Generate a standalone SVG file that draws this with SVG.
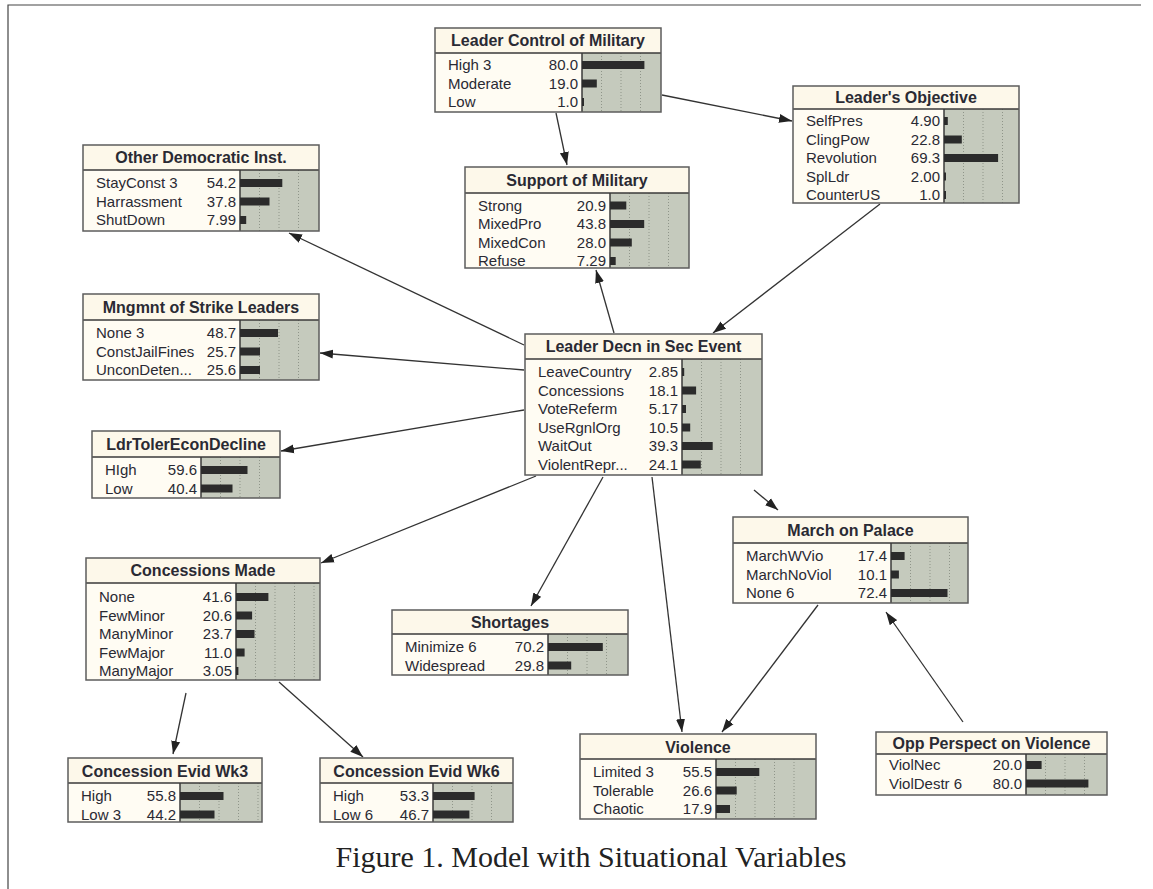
<svg xmlns="http://www.w3.org/2000/svg" width="1153" height="889" viewBox="0 0 1153 889">
<defs>
<marker id="ah" markerUnits="userSpaceOnUse" markerWidth="14" markerHeight="10" refX="13" refY="5" orient="auto">
<path d="M0,0.5 L13,5 L0,9.5 z" fill="#222"/>
</marker>
<style>
.hd{fill:#fdf8ea}
.bd{fill:#fffcf3}
.gr{fill:#c5cabd}
.ol{fill:none;stroke:#5c5c5c;stroke-width:1.5}
.ln{stroke:#3a3a3a;stroke-width:1.5}
.dt{stroke:#8f9589;stroke-width:1;stroke-dasharray:1 2}
.bar{fill:#2b2b2b}
.tt{font-family:"Liberation Sans",Arial,sans-serif;font-weight:bold;font-size:16px;fill:#2a2a33;text-anchor:middle}
.lb{font-family:"Liberation Sans",Arial,sans-serif;font-size:15px;fill:#2a2a33}
.vl{font-family:"Liberation Sans",Arial,sans-serif;font-size:15px;fill:#2a2a33;text-anchor:end}
.cn{stroke:#333;stroke-width:1.3;fill:none;marker-end:url(#ah)}
.frame{stroke:#444;stroke-width:1.2;fill:none}
.cap{font-family:"Liberation Serif","Times New Roman",serif;font-size:30px;fill:#222;text-anchor:middle}
</style>
</defs>
<rect width="1153" height="889" fill="#ffffff"/>
<path class="frame" d="M8,889 L8,5 L1141,5"/>

<g id="connectors">
<line class="cn" x1="556" y1="113" x2="567" y2="165"/>
<line class="cn" x1="662" y1="95" x2="792" y2="121"/>
<line class="cn" x1="880" y1="204" x2="713" y2="333"/>
<line class="cn" x1="614" y1="333" x2="596" y2="270"/>
<line class="cn" x1="524" y1="345" x2="289" y2="233"/>
<line class="cn" x1="524" y1="370" x2="320" y2="353"/>
<line class="cn" x1="524" y1="410" x2="281" y2="451"/>
<line class="cn" x1="536" y1="476" x2="321" y2="563"/>
<line class="cn" x1="603" y1="477" x2="531" y2="606"/>
<line class="cn" x1="652" y1="477" x2="682" y2="732"/>
<line class="cn" x1="754" y1="490" x2="778" y2="510"/>
<line class="cn" x1="818" y1="605" x2="722" y2="732"/>
<line class="cn" x1="963" y1="722" x2="886" y2="612"/>
<line class="cn" x1="186" y1="693" x2="173" y2="754"/>
<line class="cn" x1="279" y1="682" x2="363" y2="757"/>
</g>

<g id="leader-control-of-military" transform="translate(435,28)">
<rect class="hd" width="226" height="25"/><rect class="bd" y="25" width="147" height="59"/><rect class="gr" x="147" y="25" width="79" height="59"/>
<line class="dt" x1="166.5" y1="25" x2="166.5" y2="84"/><line class="dt" x1="186" y1="25" x2="186" y2="84"/><line class="dt" x1="205.5" y1="25" x2="205.5" y2="84"/>
<line class="ln" x1="0" y1="25" x2="226" y2="25"/><line class="ln" x1="147" y1="25" x2="147" y2="84"/>
<rect class="ol" width="226" height="84"/>
<text class="tt" x="113" y="18">Leader Control of Military</text>
<text class="lb" x="13" y="42">High 3</text><text class="vl" x="143" y="42">80.0</text><rect class="bar" x="147" y="33" width="62.4" height="8"/>
<text class="lb" x="13" y="60.5">Moderate</text><text class="vl" x="143" y="60.5">19.0</text><rect class="bar" x="147" y="51.5" width="14.8" height="8"/>
<text class="lb" x="13" y="79">Low</text><text class="vl" x="143" y="79">1.0</text><rect class="bar" x="147" y="70" width="2" height="8"/>
</g>

<g id="leaders-objective" transform="translate(793,86)">
<rect class="hd" width="226" height="23"/><rect class="bd" y="23" width="151" height="94"/><rect class="gr" x="151" y="23" width="75" height="94"/>
<line class="dt" x1="170.5" y1="23" x2="170.5" y2="117"/><line class="dt" x1="190" y1="23" x2="190" y2="117"/><line class="dt" x1="209.5" y1="23" x2="209.5" y2="117"/>
<line class="ln" x1="0" y1="23" x2="226" y2="23"/><line class="ln" x1="151" y1="23" x2="151" y2="117"/>
<rect class="ol" width="226" height="117"/>
<text class="tt" x="113" y="17">Leader's Objective</text>
<text class="lb" x="13" y="40">SelfPres</text><text class="vl" x="147" y="40">4.90</text><rect class="bar" x="151" y="31" width="3.8" height="8"/>
<text class="lb" x="13" y="58.5">ClingPow</text><text class="vl" x="147" y="58.5">22.8</text><rect class="bar" x="151" y="49.5" width="17.8" height="8"/>
<text class="lb" x="13" y="77">Revolution</text><text class="vl" x="147" y="77">69.3</text><rect class="bar" x="151" y="68" width="54.1" height="8"/>
<text class="lb" x="13" y="95.5">SplLdr</text><text class="vl" x="147" y="95.5">2.00</text><rect class="bar" x="151" y="86.5" width="2" height="8"/>
<text class="lb" x="13" y="114">CounterUS</text><text class="vl" x="147" y="114">1.0</text><rect class="bar" x="151" y="105" width="2" height="8"/>
</g>

<g id="other-democratic-inst" transform="translate(83,145)">
<rect class="hd" width="236" height="25"/><rect class="bd" y="25" width="157" height="61"/><rect class="gr" x="157" y="25" width="79" height="61"/>
<line class="dt" x1="176.5" y1="25" x2="176.5" y2="86"/><line class="dt" x1="196" y1="25" x2="196" y2="86"/><line class="dt" x1="215.5" y1="25" x2="215.5" y2="86"/>
<line class="ln" x1="0" y1="25" x2="236" y2="25"/><line class="ln" x1="157" y1="25" x2="157" y2="86"/>
<rect class="ol" width="236" height="86"/>
<text class="tt" x="118" y="18">Other Democratic Inst.</text>
<text class="lb" x="13" y="43">StayConst 3</text><text class="vl" x="153" y="43">54.2</text><rect class="bar" x="157" y="34" width="42.3" height="8"/>
<text class="lb" x="13" y="61.5">Harrassment</text><text class="vl" x="153" y="61.5">37.8</text><rect class="bar" x="157" y="52.5" width="29.5" height="8"/>
<text class="lb" x="13" y="80">ShutDown</text><text class="vl" x="153" y="80">7.99</text><rect class="bar" x="157" y="71" width="6.2" height="8"/>
</g>

<g id="support-of-military" transform="translate(465,167)">
<rect class="hd" width="224" height="26"/><rect class="bd" y="26" width="145" height="75"/><rect class="gr" x="145" y="26" width="79" height="75"/>
<line class="dt" x1="164.5" y1="26" x2="164.5" y2="101"/><line class="dt" x1="184" y1="26" x2="184" y2="101"/><line class="dt" x1="203.5" y1="26" x2="203.5" y2="101"/>
<line class="ln" x1="0" y1="26" x2="224" y2="26"/><line class="ln" x1="145" y1="26" x2="145" y2="101"/>
<rect class="ol" width="224" height="101"/>
<text class="tt" x="112" y="19">Support of Military</text>
<text class="lb" x="13" y="43.5">Strong</text><text class="vl" x="141" y="43.5">20.9</text><rect class="bar" x="145" y="34.5" width="16.3" height="8"/>
<text class="lb" x="13" y="62">MixedPro</text><text class="vl" x="141" y="62">43.8</text><rect class="bar" x="145" y="53" width="34.2" height="8"/>
<text class="lb" x="13" y="80.5">MixedCon</text><text class="vl" x="141" y="80.5">28.0</text><rect class="bar" x="145" y="71.5" width="21.8" height="8"/>
<text class="lb" x="13" y="99">Refuse</text><text class="vl" x="141" y="99">7.29</text><rect class="bar" x="145" y="90" width="5.7" height="8"/>
</g>

<g id="leader-decn-in-sec-event" transform="translate(525,334)">
<rect class="hd" width="237" height="25"/><rect class="bd" y="25" width="157" height="116"/><rect class="gr" x="157" y="25" width="80" height="116"/>
<line class="dt" x1="176.5" y1="25" x2="176.5" y2="141"/><line class="dt" x1="196" y1="25" x2="196" y2="141"/><line class="dt" x1="215.5" y1="25" x2="215.5" y2="141"/>
<line class="ln" x1="0" y1="25" x2="237" y2="25"/><line class="ln" x1="157" y1="25" x2="157" y2="141"/>
<rect class="ol" width="237" height="141"/>
<text class="tt" x="118.5" y="18">Leader Decn in Sec Event</text>
<text class="lb" x="13" y="43">LeaveCountry</text><text class="vl" x="153" y="43">2.85</text><rect class="bar" x="157" y="34" width="2.2" height="8"/>
<text class="lb" x="13" y="61.5">Concessions</text><text class="vl" x="153" y="61.5">18.1</text><rect class="bar" x="157" y="52.5" width="14.1" height="8"/>
<text class="lb" x="13" y="80">VoteReferm</text><text class="vl" x="153" y="80">5.17</text><rect class="bar" x="157" y="71" width="4" height="8"/>
<text class="lb" x="13" y="98.5">UseRgnlOrg</text><text class="vl" x="153" y="98.5">10.5</text><rect class="bar" x="157" y="89.5" width="8.2" height="8"/>
<text class="lb" x="13" y="117">WaitOut</text><text class="vl" x="153" y="117">39.3</text><rect class="bar" x="157" y="108" width="30.7" height="8"/>
<text class="lb" x="13" y="135.5">ViolentRepr...</text><text class="vl" x="153" y="135.5">24.1</text><rect class="bar" x="157" y="126.5" width="18.8" height="8"/>
</g>

<g id="mngmnt-of-strike-leaders" transform="translate(83,294)">
<rect class="hd" width="236" height="26"/><rect class="bd" y="26" width="157" height="60"/><rect class="gr" x="157" y="26" width="79" height="60"/>
<line class="dt" x1="176.5" y1="26" x2="176.5" y2="86"/><line class="dt" x1="196" y1="26" x2="196" y2="86"/><line class="dt" x1="215.5" y1="26" x2="215.5" y2="86"/>
<line class="ln" x1="0" y1="26" x2="236" y2="26"/><line class="ln" x1="157" y1="26" x2="157" y2="86"/>
<rect class="ol" width="236" height="86"/>
<text class="tt" x="118" y="19">Mngmnt of Strike Leaders</text>
<text class="lb" x="13" y="44">None 3</text><text class="vl" x="153" y="44">48.7</text><rect class="bar" x="157" y="35" width="38" height="8"/>
<text class="lb" x="13" y="62.5">ConstJailFines</text><text class="vl" x="153" y="62.5">25.7</text><rect class="bar" x="157" y="53.5" width="20" height="8"/>
<text class="lb" x="13" y="81">UnconDeten...</text><text class="vl" x="153" y="81">25.6</text><rect class="bar" x="157" y="72" width="20" height="8"/>
</g>

<g id="ldr-toler-econ-decline" transform="translate(92,431)">
<rect class="hd" width="188" height="26"/><rect class="bd" y="26" width="109" height="41"/><rect class="gr" x="109" y="26" width="79" height="41"/>
<line class="dt" x1="128.5" y1="26" x2="128.5" y2="67"/><line class="dt" x1="148" y1="26" x2="148" y2="67"/><line class="dt" x1="167.5" y1="26" x2="167.5" y2="67"/>
<line class="ln" x1="0" y1="26" x2="188" y2="26"/><line class="ln" x1="109" y1="26" x2="109" y2="67"/>
<rect class="ol" width="188" height="67"/>
<text class="tt" x="94" y="19">LdrTolerEconDecline</text>
<text class="lb" x="13" y="44">HIgh</text><text class="vl" x="105" y="44">59.6</text><rect class="bar" x="109" y="35" width="46.5" height="8"/>
<text class="lb" x="13" y="62.5">Low</text><text class="vl" x="105" y="62.5">40.4</text><rect class="bar" x="109" y="53.5" width="31.5" height="8"/>
</g>

<g id="march-on-palace" transform="translate(733,517)">
<rect class="hd" width="235" height="26"/><rect class="bd" y="26" width="158" height="60"/><rect class="gr" x="158" y="26" width="77" height="60"/>
<line class="dt" x1="177.5" y1="26" x2="177.5" y2="86"/><line class="dt" x1="197" y1="26" x2="197" y2="86"/><line class="dt" x1="216.5" y1="26" x2="216.5" y2="86"/>
<line class="ln" x1="0" y1="26" x2="235" y2="26"/><line class="ln" x1="158" y1="26" x2="158" y2="86"/>
<rect class="ol" width="235" height="86"/>
<text class="tt" x="117.5" y="19">March on Palace</text>
<text class="lb" x="13" y="44">MarchWVio</text><text class="vl" x="154" y="44">17.4</text><rect class="bar" x="158" y="35" width="13.6" height="8"/>
<text class="lb" x="13" y="62.5">MarchNoViol</text><text class="vl" x="154" y="62.5">10.1</text><rect class="bar" x="158" y="53.5" width="7.9" height="8"/>
<text class="lb" x="13" y="81">None 6</text><text class="vl" x="154" y="81">72.4</text><rect class="bar" x="158" y="72" width="56.5" height="8"/>
</g>

<g id="concessions-made" transform="translate(86,558)">
<rect class="hd" width="234" height="25"/><rect class="bd" y="25" width="150" height="97"/><rect class="gr" x="150" y="25" width="84" height="97"/>
<line class="dt" x1="169.5" y1="25" x2="169.5" y2="122"/><line class="dt" x1="189" y1="25" x2="189" y2="122"/><line class="dt" x1="208.5" y1="25" x2="208.5" y2="122"/><line class="dt" x1="228" y1="25" x2="228" y2="122"/>
<line class="ln" x1="0" y1="25" x2="234" y2="25"/><line class="ln" x1="150" y1="25" x2="150" y2="122"/>
<rect class="ol" width="234" height="122"/>
<text class="tt" x="117" y="18">Concessions Made</text>
<text class="lb" x="13" y="44">None</text><text class="vl" x="146" y="44">41.6</text><rect class="bar" x="150" y="35" width="32.4" height="8"/>
<text class="lb" x="13" y="62.5">FewMinor</text><text class="vl" x="146" y="62.5">20.6</text><rect class="bar" x="150" y="53.5" width="16.1" height="8"/>
<text class="lb" x="13" y="81">ManyMinor</text><text class="vl" x="146" y="81">23.7</text><rect class="bar" x="150" y="72" width="18.5" height="8"/>
<text class="lb" x="13" y="99.5">FewMajor</text><text class="vl" x="146" y="99.5">11.0</text><rect class="bar" x="150" y="90.5" width="8.6" height="8"/>
<text class="lb" x="13" y="118">ManyMajor</text><text class="vl" x="146" y="118">3.05</text><rect class="bar" x="150" y="109" width="2.4" height="8"/>
</g>

<g id="shortages" transform="translate(392,610)">
<rect class="hd" width="236" height="24"/><rect class="bd" y="24" width="156" height="41"/><rect class="gr" x="156" y="24" width="80" height="41"/>
<line class="dt" x1="175.5" y1="24" x2="175.5" y2="65"/><line class="dt" x1="195" y1="24" x2="195" y2="65"/><line class="dt" x1="214.5" y1="24" x2="214.5" y2="65"/>
<line class="ln" x1="0" y1="24" x2="236" y2="24"/><line class="ln" x1="156" y1="24" x2="156" y2="65"/>
<rect class="ol" width="236" height="65"/>
<text class="tt" x="118" y="18">Shortages</text>
<text class="lb" x="13" y="42">Minimize 6</text><text class="vl" x="152" y="42">70.2</text><rect class="bar" x="156" y="33" width="54.8" height="8"/>
<text class="lb" x="13" y="60.5">Widespread</text><text class="vl" x="152" y="60.5">29.8</text><rect class="bar" x="156" y="51.5" width="23.2" height="8"/>
</g>

<g id="concession-evid-wk3" transform="translate(68,758)">
<rect class="hd" width="194" height="25"/><rect class="bd" y="25" width="112" height="39"/><rect class="gr" x="112" y="25" width="82" height="39"/>
<line class="dt" x1="131.5" y1="25" x2="131.5" y2="64"/><line class="dt" x1="151" y1="25" x2="151" y2="64"/><line class="dt" x1="170.5" y1="25" x2="170.5" y2="64"/><line class="dt" x1="190" y1="25" x2="190" y2="64"/>
<line class="ln" x1="0" y1="25" x2="194" y2="25"/><line class="ln" x1="112" y1="25" x2="112" y2="64"/>
<rect class="ol" width="194" height="64"/>
<text class="tt" x="97" y="19">Concession Evid Wk3</text>
<text class="lb" x="13" y="43">High</text><text class="vl" x="108" y="43">55.8</text><rect class="bar" x="112" y="34" width="43.5" height="8"/>
<text class="lb" x="13" y="61.5">Low 3</text><text class="vl" x="108" y="61.5">44.2</text><rect class="bar" x="112" y="52.5" width="34.5" height="8"/>
</g>

<g id="concession-evid-wk6" transform="translate(320,758)">
<rect class="hd" width="193" height="25"/><rect class="bd" y="25" width="113" height="39"/><rect class="gr" x="113" y="25" width="80" height="39"/>
<line class="dt" x1="132.5" y1="25" x2="132.5" y2="64"/><line class="dt" x1="152" y1="25" x2="152" y2="64"/><line class="dt" x1="171.5" y1="25" x2="171.5" y2="64"/>
<line class="ln" x1="0" y1="25" x2="193" y2="25"/><line class="ln" x1="113" y1="25" x2="113" y2="64"/>
<rect class="ol" width="193" height="64"/>
<text class="tt" x="96.5" y="19">Concession Evid Wk6</text>
<text class="lb" x="13" y="43">High</text><text class="vl" x="109" y="43">53.3</text><rect class="bar" x="113" y="34" width="41.6" height="8"/>
<text class="lb" x="13" y="61.5">Low 6</text><text class="vl" x="109" y="61.5">46.7</text><rect class="bar" x="113" y="52.5" width="36.4" height="8"/>
</g>

<g id="violence" transform="translate(580,734)">
<rect class="hd" width="236" height="25"/><rect class="bd" y="25" width="136" height="60"/><rect class="gr" x="136" y="25" width="100" height="60"/>
<line class="dt" x1="155.5" y1="25" x2="155.5" y2="85"/><line class="dt" x1="175" y1="25" x2="175" y2="85"/><line class="dt" x1="194.5" y1="25" x2="194.5" y2="85"/><line class="dt" x1="214" y1="25" x2="214" y2="85"/>
<line class="ln" x1="0" y1="25" x2="236" y2="25"/><line class="ln" x1="136" y1="25" x2="136" y2="85"/>
<rect class="ol" width="236" height="85"/>
<text class="tt" x="118" y="19">Violence</text>
<text class="lb" x="13" y="43">Limited 3</text><text class="vl" x="132" y="43">55.5</text><rect class="bar" x="136" y="34" width="43.3" height="8"/>
<text class="lb" x="13" y="61.5">Tolerable</text><text class="vl" x="132" y="61.5">26.6</text><rect class="bar" x="136" y="52.5" width="20.7" height="8"/>
<text class="lb" x="13" y="80">Chaotic</text><text class="vl" x="132" y="80">17.9</text><rect class="bar" x="136" y="71" width="14" height="8"/>
</g>

<g id="opp-perspect-on-violence" transform="translate(876,732)">
<rect class="hd" width="231" height="22"/><rect class="bd" y="22" width="150" height="41"/><rect class="gr" x="150" y="22" width="81" height="41"/>
<line class="dt" x1="169.5" y1="22" x2="169.5" y2="63"/><line class="dt" x1="189" y1="22" x2="189" y2="63"/><line class="dt" x1="208.5" y1="22" x2="208.5" y2="63"/>
<line class="ln" x1="0" y1="22" x2="231" y2="22"/><line class="ln" x1="150" y1="22" x2="150" y2="63"/>
<rect class="ol" width="231" height="63"/>
<text class="tt" x="115.5" y="16.5">Opp Perspect on Violence</text>
<text class="lb" x="13" y="38">ViolNec</text><text class="vl" x="146" y="38">20.0</text><rect class="bar" x="150" y="29" width="15.6" height="8"/>
<text class="lb" x="13" y="56.5">ViolDestr 6</text><text class="vl" x="146" y="56.5">80.0</text><rect class="bar" x="150" y="47.5" width="62.4" height="8"/>
</g>

<text class="cap" x="591" y="867">Figure 1. Model with Situational Variables</text>
</svg>
